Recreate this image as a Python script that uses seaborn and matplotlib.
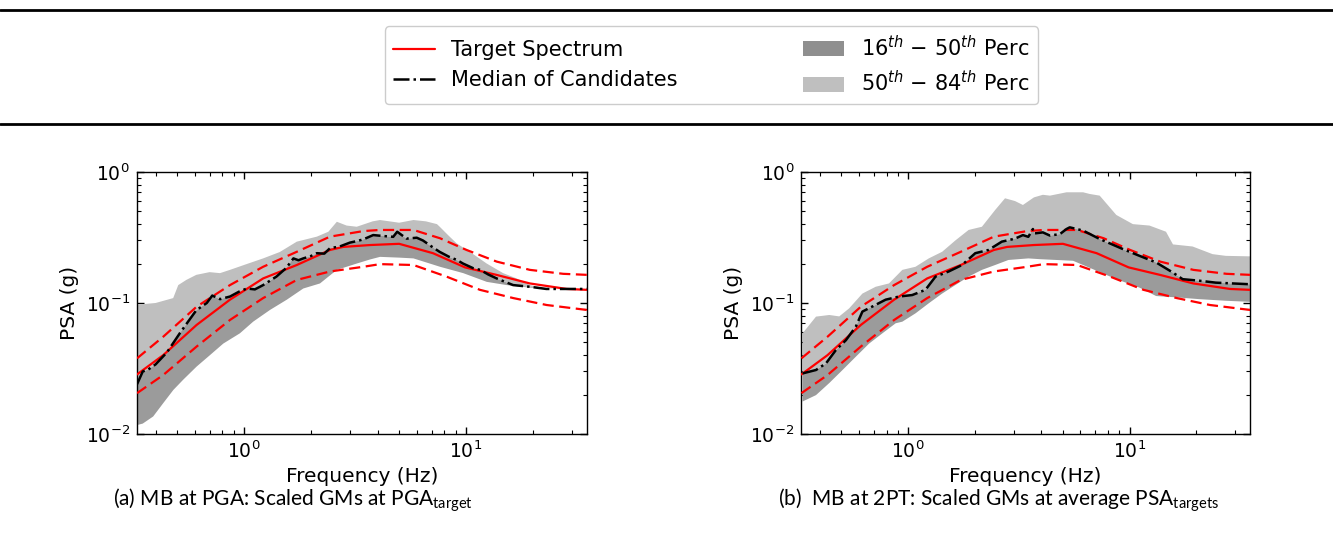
import matplotlib
matplotlib.use("Agg")
import matplotlib.pyplot as plt
import seaborn as sns
import numpy as np
from matplotlib.lines import Line2D
from matplotlib.patches import Patch

# ---------------- data ----------------
TARGET_FREQ = [0.33, 0.433, 0.612, 0.865, 1.22, 1.73, 2.44, 2.8, 3.7, 5.0, 7.1, 9.9, 13.7, 19.4, 28.4, 35]
TARGET_VAL = [0.0285, 0.040, 0.068, 0.106, 0.154, 0.195, 0.254, 0.268, 0.277, 0.283, 0.24, 0.187, 0.164, 0.141, 0.128, 0.126]

UPPER_FREQ = [0.33, 0.433, 0.612, 0.865, 1.22, 1.73, 2.44, 3.45, 4.1, 5.8, 7.64, 10.06, 13.75, 19.4, 27.4, 35]
UPPER_VAL = [0.0378, 0.0553, 0.0937, 0.137, 0.189, 0.246, 0.321, 0.354, 0.361, 0.361, 0.312, 0.254, 0.207, 0.179, 0.167, 0.164]

LOWER_FREQ = [0.33, 0.433, 0.612, 0.865, 1.22, 1.73, 2.44, 3.45, 4.1, 5.8, 8.17, 11.56, 16.34, 23.1, 35]
LOWER_VAL = [0.0205, 0.0282, 0.0465, 0.0742, 0.109, 0.150, 0.174, 0.189, 0.198, 0.195, 0.159, 0.126, 0.109, 0.0965, 0.0885]

# panel (a)
A_MED_FREQ = [0.33, 0.35, 0.37, 0.40, 0.45, 0.515, 0.56, 0.61, 0.68, 0.72, 0.78, 0.865, 0.95, 1.03, 1.12, 1.22,
              1.40, 1.55, 1.67, 1.76, 1.85, 2.0, 2.13, 2.3, 2.44, 2.7, 3.0, 3.2, 3.45, 3.82, 4.2, 4.7, 4.9,
              5.4, 6.0, 6.4, 7.0, 7.6, 8.4, 9.1, 9.7, 10.8, 11.6, 12.6, 13.75, 15.0, 16.3, 19.4, 23.0, 35]
A_MED_VAL = [0.024, 0.030, 0.031, 0.034, 0.042, 0.059, 0.072, 0.088, 0.100, 0.114, 0.107, 0.112, 0.122, 0.129, 0.127, 0.137,
             0.159, 0.185, 0.219, 0.212, 0.219, 0.228, 0.24, 0.238, 0.262, 0.270, 0.289, 0.296, 0.306, 0.33, 0.325, 0.32, 0.35,
             0.31, 0.315, 0.30, 0.27, 0.246, 0.225, 0.213, 0.20, 0.184, 0.179, 0.165, 0.154, 0.145, 0.137, 0.133, 0.128, 0.128]

A_P84_FREQ = [0.33, 0.40, 0.48, 0.506, 0.55, 0.61, 0.70, 0.78, 0.865, 1.0, 1.22, 1.45, 1.73, 2.13, 2.4, 2.62, 2.9, 3.22,
              3.8, 4.1, 5.0, 5.8, 6.6, 7.4, 7.64, 8.3, 9.08, 10.4, 12.4, 14.7, 16.9, 19.4, 23.0, 35]
A_P84_VAL = [0.097, 0.10, 0.109, 0.137, 0.150, 0.164, 0.172, 0.169, 0.179, 0.195, 0.219, 0.245, 0.294, 0.321, 0.35, 0.417, 0.39, 0.382,
             0.42, 0.43, 0.41, 0.43, 0.42, 0.40, 0.38, 0.33, 0.285, 0.246, 0.20, 0.169, 0.154, 0.137, 0.129, 0.128]

A_P16_FREQ = [0.33, 0.35, 0.39, 0.433, 0.481, 0.533, 0.612, 0.703, 0.807, 0.959, 1.10, 1.31, 1.56, 1.85, 2.2, 2.62,
              3.22, 3.7, 4.1, 5.0, 5.8, 7.64, 9.72, 12.4, 15.25, 19.4, 23.0, 35]
A_P16_VAL = [0.0117, 0.012, 0.0136, 0.0172, 0.0217, 0.026, 0.0327, 0.040, 0.049, 0.0587, 0.072, 0.0885, 0.106, 0.129, 0.141, 0.179,
             0.20, 0.215, 0.225, 0.222, 0.219, 0.189, 0.169, 0.145, 0.137, 0.131, 0.128, 0.128]

# panel (b)
B_MED_FREQ = [0.334, 0.384, 0.426, 0.472, 0.524, 0.581, 0.622, 0.69, 0.792, 0.91, 1.044, 1.198, 1.33, 1.525, 1.752, 2.011,
              2.307, 2.65, 3.04, 3.3, 3.49, 3.66, 3.74, 4.06, 4.37, 4.85, 5.19, 5.37, 6.17, 7.33, 9.33, 11.09, 13.18,
              15.66, 17.36, 20.6, 24.5, 35]
B_MED_VAL = [0.029, 0.0308, 0.0346, 0.0437, 0.052, 0.066, 0.086, 0.094, 0.106, 0.112, 0.115, 0.126, 0.159, 0.174, 0.195, 0.24,
             0.254, 0.294, 0.31, 0.33, 0.32, 0.367, 0.34, 0.346, 0.327, 0.336, 0.367, 0.378, 0.357, 0.308, 0.258, 0.229, 0.204,
             0.171, 0.152, 0.148, 0.143, 0.139]

B_P84_FREQ = [0.334, 0.384, 0.441, 0.489, 0.542, 0.622, 0.714, 0.82, 0.942, 1.08, 1.24, 1.425, 1.634, 1.876, 2.155, 2.473,
              2.74, 3.04, 3.3, 3.7, 4.06, 4.37, 5.19, 6.17, 6.6, 7.33, 8.71, 10.35, 12.3, 14.6, 15.7, 19.25, 23.7, 27.2, 35]
B_P84_VAL = [0.0587, 0.0787, 0.081, 0.079, 0.091, 0.118, 0.133, 0.141, 0.179, 0.189, 0.219, 0.246, 0.30, 0.361, 0.382, 0.513,
             0.63, 0.60, 0.56, 0.64, 0.67, 0.66, 0.70, 0.70, 0.68, 0.66, 0.47, 0.40, 0.39, 0.35, 0.28, 0.27, 0.236, 0.229, 0.227]

B_P16_FREQ = [0.334, 0.384, 0.441, 0.506, 0.581, 0.667, 0.766, 0.879, 0.942, 1.081, 1.24, 1.425, 1.634, 1.876, 2.155, 2.473,
              2.838, 3.49, 3.94, 5.56, 6.84, 8.71, 11.09, 13.18, 16.78, 20.6, 27.2, 35]
B_P16_VAL = [0.0177, 0.0198, 0.0245, 0.0308, 0.0389, 0.049, 0.0587, 0.070, 0.072, 0.0834, 0.0995, 0.118, 0.137, 0.159, 0.179, 0.195,
             0.213, 0.219, 0.216, 0.21, 0.181, 0.152, 0.131, 0.113, 0.110, 0.107, 0.104, 0.102]

CAPTIONS = ["(a) MB at PGA: Scaled GMs at PGA$_{\\mathrm{target}}$",
            "(b)  MB at 2PT: Scaled GMs at average PSA$_{\\mathrm{targets}}$"]
LEGEND_LABELS = ["Target Spectrum", "Median of Candidates",
                 "$16^{th}$ $-$ $50^{th}$ Perc", "$50^{th}$ $-$ $84^{th}$ Perc"]

DARK = "#9b9b9b"
LIGHT = "#bfbfbf"

# ---------------- style ----------------
sns.set_style("ticks")
plt.rcParams["font.family"] = ["DejaVu Sans"]
plt.rcParams["text.color"] = "black"
plt.rcParams["axes.labelcolor"] = "black"
plt.rcParams["xtick.color"] = "black"
plt.rcParams["ytick.color"] = "black"
plt.rcParams["mathtext.fontset"] = "dejavusans"
plt.rcParams["mathtext.rm"] = "Lato"
plt.rcParams["mathtext.it"] = "Lato:italic"
plt.rcParams["mathtext.bf"] = "Lato:bold"

fig = plt.figure(figsize=(13.33, 5.34), dpi=100)
ax_a = fig.add_axes([0.1026, 0.1873, 0.3376, 0.4906])
ax_b = fig.add_axes([0.6010, 0.1873, 0.3368, 0.4906])

panels = [
    (ax_a, A_MED_FREQ, A_MED_VAL, A_P84_FREQ, A_P84_VAL, A_P16_FREQ, A_P16_VAL),
    (ax_b, B_MED_FREQ, B_MED_VAL, B_P84_FREQ, B_P84_VAL, B_P16_FREQ, B_P16_VAL),
]

for ax, mf, mv, uf, uv, lf, lv in panels:
    # bands: 50-84 (light) and 16-50 (dark)
    ax.fill(list(mf) + list(uf)[::-1], list(mv) + list(uv)[::-1], color=LIGHT, lw=0, zorder=1)
    ax.fill(list(lf) + list(mf)[::-1], list(lv) + list(mv)[::-1], color=DARK, lw=0, zorder=2)
    sns.lineplot(x=TARGET_FREQ, y=TARGET_VAL, ax=ax, color="red", lw=1.6, sort=False,
                 estimator=None, legend=False, zorder=4)
    sns.lineplot(x=UPPER_FREQ, y=UPPER_VAL, ax=ax, color="red", lw=1.6, dashes=False,
                 sort=False, estimator=None, legend=False, zorder=4).lines[-1].set_dashes([5, 2.5])
    sns.lineplot(x=LOWER_FREQ, y=LOWER_VAL, ax=ax, color="red", lw=1.6, dashes=False,
                 sort=False, estimator=None, legend=False, zorder=4).lines[-1].set_dashes([5, 2.5])
    sns.lineplot(x=mf, y=mv, ax=ax, color="black", lw=1.8, linestyle="-.",
                 sort=False, estimator=None, legend=False, zorder=5)
    ax.set_xscale("log")
    ax.set_yscale("log")
    ax.set_xlim(0.329, 35)
    ax.set_ylim(0.01, 1.0)
    ax.set_xlabel("Frequency (Hz)", fontsize=14.5, labelpad=3)
    ax.set_ylabel("PSA (g)", fontsize=14.5, labelpad=5)
    ax.tick_params(which="both", direction="in", top=True, right=True, labelsize=13.5)
    ax.tick_params(which="major", length=5, width=1, pad=5)
    ax.tick_params(which="minor", length=3, width=0.8)
    for s in ax.spines.values():
        s.set_linewidth(1.0)
        s.set_color("black")

# captions
fig.text(0.0848, 0.063, CAPTIONS[0], family="Lato", fontsize=15, ha="left", va="center",
         math_fontfamily="custom", color="black")
fig.text(0.5836, 0.063, CAPTIONS[1], family="Lato", fontsize=15, ha="left", va="center",
         math_fontfamily="custom", color="black")

# legend
handles = [
    Line2D([], [], color="red", lw=1.6),
    Line2D([], [], color="black", lw=1.8, linestyle="-."),
    Patch(facecolor="#8f8f8f", edgecolor="none"),
    Patch(facecolor=LIGHT, edgecolor="none"),
]
leg = fig.legend(handles, LEGEND_LABELS, ncol=2, loc="center", bbox_to_anchor=(0.5335, 0.878),
                 fontsize=15, frameon=True, fancybox=True, edgecolor="#cccccc", framealpha=1,
                 columnspacing=6.0, handlelength=2.0, borderpad=0.4, labelspacing=0.5)
for t in leg.get_texts():
    t.set_color("black")

# separator lines
fig.add_artist(Line2D([0, 1], [0.981, 0.981], transform=fig.transFigure, color="black", lw=2))
fig.add_artist(Line2D([0, 1], [0.767, 0.767], transform=fig.transFigure, color="black", lw=2))

fig.savefig("out.png", dpi=100)
